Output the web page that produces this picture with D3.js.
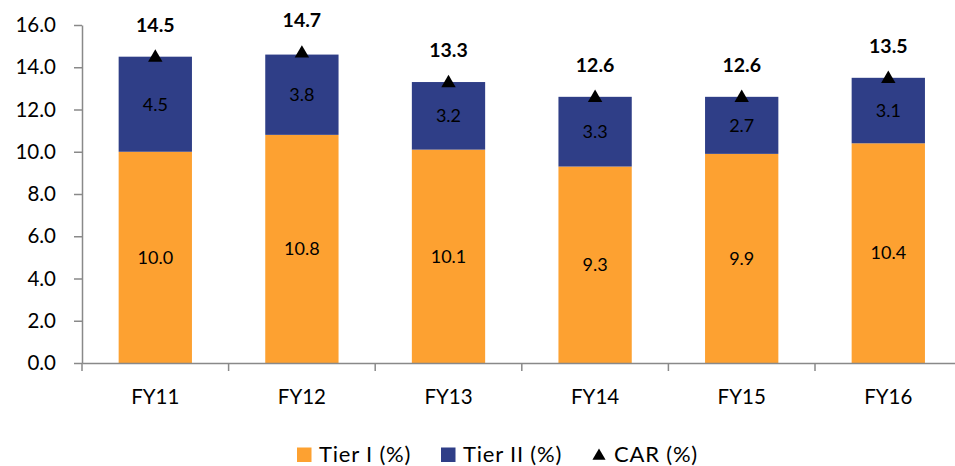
<!DOCTYPE html>
<html><head><meta charset="utf-8">
<script src="https://cdn.jsdelivr.net/npm/d3@7"></script>
<style>body{margin:0;background:#fff}svg{display:block}text{font-family:Lato,"Open Sans",sans-serif}</style>
</head><body>
<svg id="c" width="955" height="466"></svg>
<script>
const categories = ["FY11","FY12","FY13","FY14","FY15","FY16"];
const tier1 = [10.0,10.8,10.1,9.3,9.9,10.4];
const tier2 = [4.5,3.8,3.2,3.3,2.7,3.1];
const car = [14.5,14.7,13.3,12.6,12.6,13.5];
const yTicks = [0,2,4,6,8,10,12,14,16];

const svg = d3.select("#c");
const x0 = 82, bw = 146.6;
const x = d3.scaleBand().domain(categories).range([x0, x0 + bw*6]).paddingInner(0).paddingOuter(0);
const y = d3.scaleLinear().domain([0,16]).range([363,25]);
const orange = "#FDA131", navy = "#2F3E87", axisCol = "#898989";

const bar = 0.5*x.bandwidth();
categories.forEach((c,i)=>{
  const cx = x(c) + x.bandwidth()/2;
  svg.append("rect").attr("x",cx-bar/2).attr("width",bar)
    .attr("y",y(tier1[i])).attr("height",y(0)-y(tier1[i])).attr("fill",orange);
  svg.append("rect").attr("x",cx-bar/2).attr("width",bar)
    .attr("y",y(tier1[i]+tier2[i])).attr("height",y(tier1[i])-y(tier1[i]+tier2[i])).attr("fill",navy);
  svg.append("text").attr("x",cx).attr("y",y(tier1[i]/2)).attr("dy","0.35em")
    .attr("text-anchor","middle").attr("font-size",18).attr("fill","#000").text(tier1[i].toFixed(1));
  svg.append("text").attr("x",cx).attr("y",y(tier1[i]+tier2[i]/2)).attr("dy","0.35em")
    .attr("text-anchor","middle").attr("font-size",18).attr("fill","#000").text(tier2[i].toFixed(1));
  svg.append("path").attr("d",d3.symbol(d3.symbolTriangle,90)())
    .attr("transform",`translate(${cx},${y(car[i])+1})`).attr("fill","#000");
  svg.append("text").attr("x",cx).attr("y",y(car[i])-25)
    .attr("text-anchor","middle").attr("font-size",19.5).attr("font-weight","bold").attr("fill","#000").text(car[i].toFixed(1));
});

const ya = svg.append("g").attr("transform",`translate(${x0},0)`)
  .call(d3.axisLeft(y).tickValues(yTicks).tickFormat(d3.format(".1f")).tickSize(8).tickSizeOuter(0));
ya.select(".domain").attr("stroke",axisCol).attr("stroke-width",1.5);
ya.selectAll(".tick line").attr("stroke",axisCol).attr("stroke-width",1.5);
ya.selectAll(".tick text").attr("font-size",20.5).attr("fill","#000").attr("x",-26).attr("font-family",'Lato,"Open Sans",sans-serif');

const xa = svg.append("g").attr("transform",`translate(0,${y(0)})`)
  .call(d3.axisBottom(x).tickSize(0).tickSizeOuter(0));
xa.select(".domain").attr("stroke",axisCol).attr("stroke-width",1.5);
xa.selectAll(".tick text").attr("font-size",20.5).attr("fill","#000").attr("y",26).attr("font-family",'Lato,"Open Sans",sans-serif');
xa.selectAll(".btick").data(categories).enter().append("line").attr("class","btick")
  .attr("x1",d=>x(d)).attr("x2",d=>x(d)).attr("y1",0).attr("y2",8)
  .attr("stroke",axisCol).attr("stroke-width",1.5);

const lg = svg.append("g");
const items = [{t:"Tier I (%)",c:orange,x:297,type:"sq"},{t:"Tier II (%)",c:navy,x:441,type:"sq"},{t:"CAR (%)",c:"#000",x:592,type:"tri"}];
items.forEach(it=>{
  if(it.type==="sq") lg.append("rect").attr("x",it.x).attr("y",447.5).attr("width",14.5).attr("height",14.5).attr("fill",it.c);
  else lg.append("path").attr("d",d3.symbol(d3.symbolTriangle,75)()).attr("transform",`translate(${it.x+7},${456})`).attr("fill",it.c);
  lg.append("text").attr("x",it.x+22).attr("y",462).attr("font-size",22).attr("letter-spacing","0.8px").attr("fill","#000").text(it.t);
});
</script>
</body></html>
